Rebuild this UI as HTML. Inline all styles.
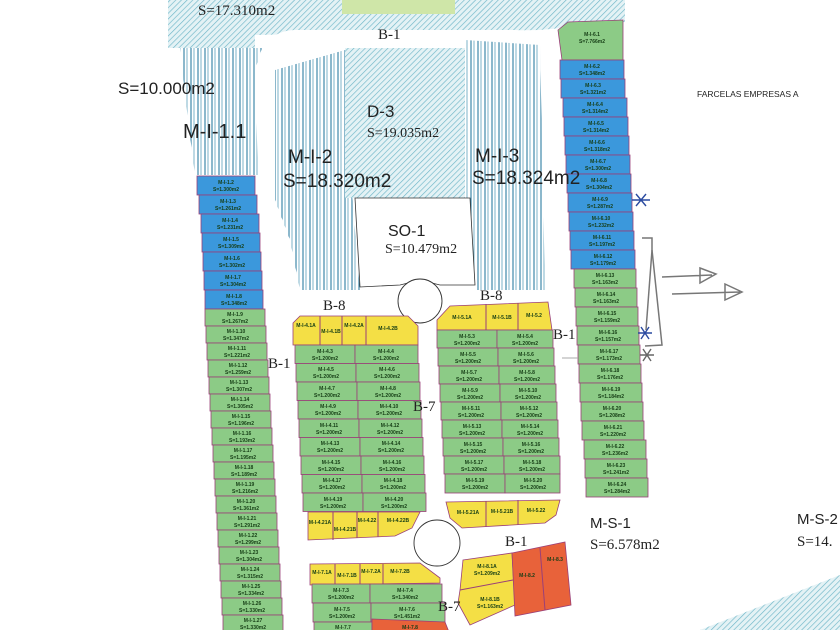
<!DOCTYPE html>
<html><head><meta charset="utf-8"><style>
html,body{margin:0;padding:0;background:#fff;}
svg{display:block;font-family:"Liberation Sans",sans-serif;}
.l rect,.l polygon{stroke:#9a3f78;stroke-width:0.8;}
.t{font-size:5px;font-weight:bold;fill:#153d15;text-anchor:middle;}
.g{fill:#8ccb86;} .b{fill:#3b98dc;} .y{fill:#f4df45;} .o{fill:#e8623a;}
.big{fill:#222;}
</style></head><body>
<svg width="840" height="630" viewBox="0 0 840 630" xmlns="http://www.w3.org/2000/svg">
<defs>
<pattern id="h" width="4" height="4" patternUnits="userSpaceOnUse" patternTransform="rotate(45)">
<rect width="4" height="4" fill="#e4f2f5"/><line x1="0" y1="0" x2="0" y2="4" stroke="#6eb6c8" stroke-width="1.3"/></pattern>
<pattern id="v" width="7" height="10" patternUnits="userSpaceOnUse">
<rect width="7" height="10" fill="#fff"/><line x1="2" y1="0" x2="2" y2="10" stroke="#2f7ea3" stroke-width="1.1"/><line x1="5" y1="0" x2="5" y2="10" stroke="#5aa0bb" stroke-width="0.8"/></pattern>
</defs>
<rect width="840" height="630" fill="#fff"/>
<polygon points="168,0 625,0 625,22 540,30 255,35 255,48 168,48" fill="url(#h)"/>
<rect x="342" y="0" width="113" height="14" fill="#cfe6a8"/>
<polygon points="700,630 840,575 840,630" fill="url(#h)"/>
<rect x="255" y="30" width="300" height="270" rx="40" fill="#fff"/>
<polygon points="180,48 262,48 255,70 258,175 195,175 188,120" fill="url(#v)"/>
<polygon points="275,70 345,50 345,195 352,195 360,290 300,290 290,240 275,200" fill="url(#v)"/>
<rect x="345" y="48" width="120" height="150" fill="url(#h)"/>
<polygon points="465,40 540,45 545,290 475,290 470,200 465,198" fill="url(#v)"/>
<polygon points="355,198 470,198 475,285 440,285 420,280 400,285 360,287" fill="#fff" stroke="#333" stroke-width="0.8"/>
<circle cx="420" cy="301" r="22" fill="#fff" stroke="#333" stroke-width="0.9"/>
<circle cx="437" cy="543" r="23" fill="#fff" stroke="#333" stroke-width="0.9"/>

<g class="l">
<g transform="translate(197,176)"><rect class="b" width="58" height="19"/><text class="t" x="29" y="8">M-I-1.2</text><text class="t" x="29" y="15">S=1.300m2</text></g>
<g transform="translate(199,195)"><rect class="b" width="58" height="19"/><text class="t" x="29" y="8">M-I-1.3</text><text class="t" x="29" y="15">S=1.261m2</text></g>
<g transform="translate(201,214)"><rect class="b" width="58" height="19"/><text class="t" x="29" y="8">M-I-1.4</text><text class="t" x="29" y="15">S=1.231m2</text></g>
<g transform="translate(202,233)"><rect class="b" width="58" height="19"/><text class="t" x="29" y="8">M-I-1.5</text><text class="t" x="29" y="15">S=1.309m2</text></g>
<g transform="translate(203,252)"><rect class="b" width="58" height="19"/><text class="t" x="29" y="8">M-I-1.6</text><text class="t" x="29" y="15">S=1.302m2</text></g>
<g transform="translate(204,271)"><rect class="b" width="58" height="19"/><text class="t" x="29" y="8">M-I-1.7</text><text class="t" x="29" y="15">S=1.304m2</text></g>
<g transform="translate(205,290)"><rect class="b" width="58" height="19"/><text class="t" x="29" y="8">M-I-1.8</text><text class="t" x="29" y="15">S=1.348m2</text></g>
</g>
<g class="l">
<g transform="translate(205,309)"><rect class="g" width="60" height="17"/><text class="t" x="30" y="7">M-I-1.9</text><text class="t" x="30" y="14">S=1.267m2</text></g>
<g transform="translate(206,326)"><rect class="g" width="60" height="17"/><text class="t" x="30" y="7">M-I-1.10</text><text class="t" x="30" y="14">S=1.347m2</text></g>
<g transform="translate(207,343)"><rect class="g" width="60" height="17"/><text class="t" x="30" y="7">M-I-1.11</text><text class="t" x="30" y="14">S=1.221m2</text></g>
<g transform="translate(208,360)"><rect class="g" width="60" height="17"/><text class="t" x="30" y="7">M-I-1.12</text><text class="t" x="30" y="14">S=1.259m2</text></g>
<g transform="translate(209,377)"><rect class="g" width="60" height="17"/><text class="t" x="30" y="7">M-I-1.13</text><text class="t" x="30" y="14">S=1.307m2</text></g>
<g transform="translate(210,394)"><rect class="g" width="60" height="17"/><text class="t" x="30" y="7">M-I-1.14</text><text class="t" x="30" y="14">S=1.305m2</text></g>
<g transform="translate(211,411)"><rect class="g" width="60" height="17"/><text class="t" x="30" y="7">M-I-1.15</text><text class="t" x="30" y="14">S=1.196m2</text></g>
<g transform="translate(212,428)"><rect class="g" width="60" height="17"/><text class="t" x="30" y="7">M-I-1.16</text><text class="t" x="30" y="14">S=1.193m2</text></g>
<g transform="translate(213,445)"><rect class="g" width="60" height="17"/><text class="t" x="30" y="7">M-I-1.17</text><text class="t" x="30" y="14">S=1.195m2</text></g>
<g transform="translate(214,462)"><rect class="g" width="60" height="17"/><text class="t" x="30" y="7">M-I-1.18</text><text class="t" x="30" y="14">S=1.189m2</text></g>
<g transform="translate(215,479)"><rect class="g" width="60" height="17"/><text class="t" x="30" y="7">M-I-1.19</text><text class="t" x="30" y="14">S=1.216m2</text></g>
<g transform="translate(216,496)"><rect class="g" width="60" height="17"/><text class="t" x="30" y="7">M-I-1.20</text><text class="t" x="30" y="14">S=1.361m2</text></g>
<g transform="translate(217,513)"><rect class="g" width="60" height="17"/><text class="t" x="30" y="7">M-I-1.21</text><text class="t" x="30" y="14">S=1.291m2</text></g>
<g transform="translate(218,530)"><rect class="g" width="60" height="17"/><text class="t" x="30" y="7">M-I-1.22</text><text class="t" x="30" y="14">S=1.299m2</text></g>
<g transform="translate(219,547)"><rect class="g" width="60" height="17"/><text class="t" x="30" y="7">M-I-1.23</text><text class="t" x="30" y="14">S=1.304m2</text></g>
<g transform="translate(220,564)"><rect class="g" width="60" height="17"/><text class="t" x="30" y="7">M-I-1.24</text><text class="t" x="30" y="14">S=1.315m2</text></g>
<g transform="translate(221,581)"><rect class="g" width="60" height="17"/><text class="t" x="30" y="7">M-I-1.25</text><text class="t" x="30" y="14">S=1.334m2</text></g>
<g transform="translate(222,598)"><rect class="g" width="60" height="17"/><text class="t" x="30" y="7">M-I-1.26</text><text class="t" x="30" y="14">S=1.330m2</text></g>
<g transform="translate(223,615)"><rect class="g" width="60" height="17"/><text class="t" x="30" y="7">M-I-1.27</text><text class="t" x="30" y="14">S=1.330m2</text></g>
</g>

<g class="l">
<g transform="translate(558,22)"><polygon class="g" points="0,8 10,0 65,-2 65,38 4,38"/><text class="t" x="34" y="14">M-I-6.1</text><text class="t" x="34" y="21">S=7.766m2</text></g>
<g transform="translate(560,60)"><rect class="b" width="64" height="19"/><text class="t" x="32" y="8">M-I-6.2</text><text class="t" x="32" y="15">S=1.348m2</text></g>
<g transform="translate(561,79)"><rect class="b" width="64" height="19"/><text class="t" x="32" y="8">M-I-6.3</text><text class="t" x="32" y="15">S=1.321m2</text></g>
<g transform="translate(563,98)"><rect class="b" width="64" height="19"/><text class="t" x="32" y="8">M-I-6.4</text><text class="t" x="32" y="15">S=1.314m2</text></g>
<g transform="translate(564,117)"><rect class="b" width="64" height="19"/><text class="t" x="32" y="8">M-I-6.5</text><text class="t" x="32" y="15">S=1.314m2</text></g>
<g transform="translate(565,136)"><rect class="b" width="64" height="19"/><text class="t" x="32" y="8">M-I-6.6</text><text class="t" x="32" y="15">S=1.318m2</text></g>
<g transform="translate(566,155)"><rect class="b" width="64" height="19"/><text class="t" x="32" y="8">M-I-6.7</text><text class="t" x="32" y="15">S=1.300m2</text></g>
<g transform="translate(567,174)"><rect class="b" width="64" height="19"/><text class="t" x="32" y="8">M-I-6.8</text><text class="t" x="32" y="15">S=1.304m2</text></g>
<g transform="translate(568,193)"><rect class="b" width="64" height="19"/><text class="t" x="32" y="8">M-I-6.9</text><text class="t" x="32" y="15">S=1.287m2</text></g>
<g transform="translate(569,212)"><rect class="b" width="64" height="19"/><text class="t" x="32" y="8">M-I-6.10</text><text class="t" x="32" y="15">S=1.232m2</text></g>
<g transform="translate(570,231)"><rect class="b" width="64" height="19"/><text class="t" x="32" y="8">M-I-6.11</text><text class="t" x="32" y="15">S=1.197m2</text></g>
<g transform="translate(571,250)"><rect class="b" width="64" height="19"/><text class="t" x="32" y="8">M-I-6.12</text><text class="t" x="32" y="15">S=1.179m2</text></g>
<g transform="translate(574,269)"><rect class="g" width="62" height="19"/><text class="t" x="31" y="8">M-I-6.13</text><text class="t" x="31" y="15">S=1.163m2</text></g>
<g transform="translate(575,288)"><rect class="g" width="62" height="19"/><text class="t" x="31" y="8">M-I-6.14</text><text class="t" x="31" y="15">S=1.163m2</text></g>
<g transform="translate(576,307)"><rect class="g" width="62" height="19"/><text class="t" x="31" y="8">M-I-6.15</text><text class="t" x="31" y="15">S=1.159m2</text></g>
<g transform="translate(577,326)"><rect class="g" width="62" height="19"/><text class="t" x="31" y="8">M-I-6.16</text><text class="t" x="31" y="15">S=1.157m2</text></g>
<g transform="translate(578,345)"><rect class="g" width="62" height="19"/><text class="t" x="31" y="8">M-I-6.17</text><text class="t" x="31" y="15">S=1.173m2</text></g>
<g transform="translate(579,364)"><rect class="g" width="62" height="19"/><text class="t" x="31" y="8">M-I-6.18</text><text class="t" x="31" y="15">S=1.176m2</text></g>
<g transform="translate(580,383)"><rect class="g" width="62" height="19"/><text class="t" x="31" y="8">M-I-6.19</text><text class="t" x="31" y="15">S=1.184m2</text></g>
<g transform="translate(581,402)"><rect class="g" width="62" height="19"/><text class="t" x="31" y="8">M-I-6.20</text><text class="t" x="31" y="15">S=1.208m2</text></g>
<g transform="translate(582,421)"><rect class="g" width="62" height="19"/><text class="t" x="31" y="8">M-I-6.21</text><text class="t" x="31" y="15">S=1.220m2</text></g>
<g transform="translate(584,440)"><rect class="g" width="62" height="19"/><text class="t" x="31" y="8">M-I-6.22</text><text class="t" x="31" y="15">S=1.236m2</text></g>
<g transform="translate(585,459)"><rect class="g" width="62" height="19"/><text class="t" x="31" y="8">M-I-6.23</text><text class="t" x="31" y="15">S=1.241m2</text></g>
<g transform="translate(586,478)"><rect class="g" width="62" height="19"/><text class="t" x="31" y="8">M-I-6.24</text><text class="t" x="31" y="15">S=1.284m2</text></g>
</g>

<g class="l">
<polygon class="y" points="293,323 300,316 408,316 418,326 418,345 293,345"/>
<line x1="320" y1="316" x2="320" y2="345" stroke="#9a3f78"/><line x1="342" y1="316" x2="342" y2="345" stroke="#9a3f78"/><line x1="366" y1="316" x2="366" y2="345" stroke="#9a3f78"/>
<text class="t" x="306" y="327">M-I-4.1A</text><text class="t" x="331" y="333">M-I-4.1B</text><text class="t" x="354" y="327">M-I-4.2A</text><text class="t" x="388" y="330">M-I-4.2B</text>
<rect class="g" x="295" y="345" width="60" height="18.5"/><rect class="g" x="355" y="345" width="63" height="18.5"/>
<text class="t" x="325" y="353">M-I-4.3</text><text class="t" x="325" y="360">S=1.200m2</text><text class="t" x="386" y="353">M-I-4.4</text><text class="t" x="386" y="360">S=1.200m2</text>
<rect class="g" x="296" y="363.5" width="60" height="18.5"/><rect class="g" x="356" y="363.5" width="63" height="18.5"/>
<text class="t" x="326" y="371">M-I-4.5</text><text class="t" x="326" y="378">S=1.200m2</text><text class="t" x="387" y="371">M-I-4.6</text><text class="t" x="387" y="378">S=1.200m2</text>
<rect class="g" x="297" y="382" width="60" height="18.5"/><rect class="g" x="357" y="382" width="63" height="18.5"/>
<text class="t" x="327" y="390">M-I-4.7</text><text class="t" x="327" y="397">S=1.200m2</text><text class="t" x="388" y="390">M-I-4.8</text><text class="t" x="388" y="397">S=1.200m2</text>
<rect class="g" x="298" y="400.5" width="60" height="18.5"/><rect class="g" x="358" y="400.5" width="63" height="18.5"/>
<text class="t" x="328" y="408">M-I-4.9</text><text class="t" x="328" y="415">S=1.200m2</text><text class="t" x="389" y="408">M-I-4.10</text><text class="t" x="389" y="415">S=1.200m2</text>
<rect class="g" x="299" y="419" width="60" height="18.5"/><rect class="g" x="359" y="419" width="63" height="18.5"/>
<text class="t" x="329" y="427">M-I-4.11</text><text class="t" x="329" y="434">S=1.200m2</text><text class="t" x="390" y="427">M-I-4.12</text><text class="t" x="390" y="434">S=1.200m2</text>
<rect class="g" x="300" y="437.5" width="60" height="18.5"/><rect class="g" x="360" y="437.5" width="63" height="18.5"/>
<text class="t" x="330" y="445">M-I-4.13</text><text class="t" x="330" y="452">S=1.200m2</text><text class="t" x="391" y="445">M-I-4.14</text><text class="t" x="391" y="452">S=1.200m2</text>
<rect class="g" x="301" y="456" width="60" height="18.5"/><rect class="g" x="361" y="456" width="63" height="18.5"/>
<text class="t" x="331" y="464">M-I-4.15</text><text class="t" x="331" y="471">S=1.200m2</text><text class="t" x="392" y="464">M-I-4.16</text><text class="t" x="392" y="471">S=1.200m2</text>
<rect class="g" x="302" y="474.5" width="60" height="18.5"/><rect class="g" x="362" y="474.5" width="63" height="18.5"/>
<text class="t" x="332" y="482">M-I-4.17</text><text class="t" x="332" y="489">S=1.200m2</text><text class="t" x="393" y="482">M-I-4.18</text><text class="t" x="393" y="489">S=1.200m2</text>
<rect class="g" x="303" y="493" width="60" height="18.5"/><rect class="g" x="363" y="493" width="63" height="18.5"/>
<text class="t" x="333" y="501">M-I-4.19</text><text class="t" x="333" y="508">S=1.200m2</text><text class="t" x="394" y="501">M-I-4.20</text><text class="t" x="394" y="508">S=1.200m2</text>
<polygon class="y" points="308,512 420,512 412,528 395,536 308,540"/>
<line x1="333" y1="512" x2="333" y2="540" stroke="#9a3f78"/><line x1="357" y1="512" x2="357" y2="538" stroke="#9a3f78"/><line x1="378" y1="512" x2="378" y2="537" stroke="#9a3f78"/>
<text class="t" x="320" y="524">M-I-4.21A</text><text class="t" x="345" y="531">M-I-4.21B</text><text class="t" x="367" y="522">M-I-4.22</text><text class="t" x="398" y="522">M-I-4.22B</text>
</g>

<g class="l">
<polygon class="y" points="437,320 450,306 548,302 552,330 437,330"/>
<line x1="486" y1="304" x2="486" y2="330" stroke="#9a3f78"/><line x1="518" y1="303" x2="518" y2="330" stroke="#9a3f78"/>
<text class="t" x="462" y="319">M-I-5.1A</text><text class="t" x="502" y="319">M-I-5.1B</text><text class="t" x="534" y="317">M-I-5.2</text>
<rect class="g" x="437" y="330" width="60" height="18"/><rect class="g" x="497" y="330" width="56" height="18"/>
<text class="t" x="467" y="338">M-I-5.3</text><text class="t" x="467" y="345">S=1.200m2</text><text class="t" x="525" y="338">M-I-5.4</text><text class="t" x="525" y="345">S=1.200m2</text>
<rect class="g" x="438" y="348" width="60" height="18"/><rect class="g" x="498" y="348" width="56" height="18"/>
<text class="t" x="468" y="356">M-I-5.5</text><text class="t" x="468" y="363">S=1.200m2</text><text class="t" x="526" y="356">M-I-5.6</text><text class="t" x="526" y="363">S=1.200m2</text>
<rect class="g" x="439" y="366" width="60" height="18"/><rect class="g" x="499" y="366" width="56" height="18"/>
<text class="t" x="469" y="374">M-I-5.7</text><text class="t" x="469" y="381">S=1.200m2</text><text class="t" x="527" y="374">M-I-5.8</text><text class="t" x="527" y="381">S=1.200m2</text>
<rect class="g" x="440" y="384" width="60" height="18"/><rect class="g" x="500" y="384" width="56" height="18"/>
<text class="t" x="470" y="392">M-I-5.9</text><text class="t" x="470" y="399">S=1.200m2</text><text class="t" x="528" y="392">M-I-5.10</text><text class="t" x="528" y="399">S=1.200m2</text>
<rect class="g" x="441" y="402" width="60" height="18"/><rect class="g" x="501" y="402" width="56" height="18"/>
<text class="t" x="471" y="410">M-I-5.11</text><text class="t" x="471" y="417">S=1.200m2</text><text class="t" x="529" y="410">M-I-5.12</text><text class="t" x="529" y="417">S=1.200m2</text>
<rect class="g" x="442" y="420" width="60" height="18"/><rect class="g" x="502" y="420" width="56" height="18"/>
<text class="t" x="472" y="428">M-I-5.13</text><text class="t" x="472" y="435">S=1.200m2</text><text class="t" x="530" y="428">M-I-5.14</text><text class="t" x="530" y="435">S=1.200m2</text>
<rect class="g" x="443" y="438" width="60" height="18"/><rect class="g" x="503" y="438" width="56" height="18"/>
<text class="t" x="473" y="446">M-I-5.15</text><text class="t" x="473" y="453">S=1.200m2</text><text class="t" x="531" y="446">M-I-5.16</text><text class="t" x="531" y="453">S=1.200m2</text>
<rect class="g" x="444" y="456" width="60" height="18"/><rect class="g" x="504" y="456" width="56" height="18"/>
<text class="t" x="474" y="464">M-I-5.17</text><text class="t" x="474" y="471">S=1.200m2</text><text class="t" x="532" y="464">M-I-5.18</text><text class="t" x="532" y="471">S=1.200m2</text>
<rect class="g" x="445" y="474" width="60" height="19"/><rect class="g" x="505" y="474" width="55" height="19"/>
<text class="t" x="475" y="482">M-I-5.19</text><text class="t" x="475" y="489">S=1.200m2</text><text class="t" x="533" y="482">M-I-5.20</text><text class="t" x="533" y="489">S=1.200m2</text>
<polygon class="y" points="446,502 560,500 556,515 545,523 462,528 450,518"/>
<line x1="486" y1="501" x2="486" y2="527" stroke="#9a3f78"/><line x1="518" y1="500" x2="518" y2="525" stroke="#9a3f78"/>
<text class="t" x="468" y="514">M-I-5.21A</text><text class="t" x="502" y="513">M-I-5.21B</text><text class="t" x="536" y="512">M-I-5.22</text>
</g>

<g class="l">
<polygon class="y" points="310,564 420,563 440,578 440,583 310,585"/>
<line x1="335" y1="564" x2="335" y2="585" stroke="#9a3f78"/><line x1="360" y1="564" x2="360" y2="585" stroke="#9a3f78"/><line x1="383" y1="564" x2="383" y2="584" stroke="#9a3f78"/>
<text class="t" x="322" y="574">M-I-7.1A</text><text class="t" x="347" y="577">M-I-7.1B</text><text class="t" x="371" y="573">M-I-7.2A</text><text class="t" x="400" y="573">M-I-7.2B</text>
<rect class="g" x="312" y="584" width="58" height="19"/><rect class="g" x="370" y="584" width="72" height="19"/>
<text class="t" x="341" y="592">M-I-7.3</text><text class="t" x="341" y="599">S=1.200m2</text><text class="t" x="405" y="592">M-I-7.4</text><text class="t" x="405" y="599">S=1.340m2</text>
<rect class="g" x="313" y="603" width="58" height="19"/><rect class="g" x="371" y="603" width="74" height="19"/>
<text class="t" x="342" y="611">M-I-7.5</text><text class="t" x="342" y="618">S=1.200m2</text><text class="t" x="407" y="611">M-I-7.6</text><text class="t" x="407" y="618">S=1.451m2</text>
<rect class="g" x="314" y="622" width="58" height="10"/><polygon class="o" points="372,619 445,622 449,632 372,632"/>
<text class="t" x="343" y="629">M-I-7.7</text><text class="t" x="410" y="629">M-I-7.8</text>
</g>
<g class="l">
<polygon class="y" points="463,560 512,553 515,605 470,625 458,603 460,590"/>
<polygon class="o" points="512,553 565,542 571,605 515,616"/>
<line x1="540" y1="548" x2="545" y2="610" stroke="#9a3f78"/>
<line x1="460" y1="590" x2="513" y2="580" stroke="#9a3f78"/>
<text class="t" x="487" y="568">M-I-8.1A</text><text class="t" x="487" y="575">S=1.209m2</text>
<text class="t" x="490" y="601">M-I-8.1B</text><text class="t" x="490" y="608">S=1.163m2</text>
<text class="t" x="527" y="577">M-I-8.2</text><text class="t" x="555" y="561">M-I-8.3</text>
</g>

<g class="big" font-family="Liberation Serif, serif">
<text x="198" y="15" font-size="15">S=17.310m2</text>
<text x="378" y="39" font-size="15">B-1</text>
<text x="367" y="137" font-size="14">S=19.035m2</text>
<text x="385" y="253" font-size="14">S=10.479m2</text>
<text x="323" y="310" font-size="15">B-8</text>
<text x="480" y="300" font-size="15">B-8</text>
<text x="268" y="368" font-size="15">B-1</text>
<text x="413" y="411" font-size="15">B-7</text>
<text x="553" y="339" font-size="15">B-1</text>
<text x="505" y="546" font-size="15">B-1</text>
<text x="438" y="611" font-size="15">B-7</text>
<text x="590" y="549" font-size="15">S=6.578m2</text>
<text x="797" y="546" font-size="15">S=14.</text>
</g>
<g class="big">
<text x="118" y="94" font-size="17">S=10.000m2</text>
<text x="183" y="138" font-size="20">M-I-1.1</text>
<text x="367" y="117" font-size="17">D-3</text>
<text x="288" y="163" font-size="19">M-I-2</text>
<text x="283" y="187" font-size="19">S=18.320m2</text>
<text x="475" y="162" font-size="19">M-I-3</text>
<text x="472" y="184" font-size="19">S=18.324m2</text>
<text x="388" y="236" font-size="16">SO-1</text>
<text x="590" y="528" font-size="15">M-S-1</text>
<text x="797" y="524" font-size="15">M-S-2</text>
<text x="697" y="97" font-size="8.5">FARCELAS EMPRESAS A</text>
</g>
<g stroke="#777" stroke-width="1.5" fill="none">
<path d="M 642,238 L 652,238 L 652,250 L 662,345 L 645,346"/>
<path d="M 652,250 L 646,330"/>
<path d="M 662,277 L 712,275 M 700,268 L 716,274 L 700,283 Z"/>
<path d="M 672,294 L 740,292 M 725,284 L 742,292 L 725,300 Z"/>
</g>
<g stroke="#2a4aa0" stroke-width="1.4"><path d="M 632,200 L 650,200 M 636,194 L 646,206 M 646,194 L 636,206"/><path d="M 638,333 L 652,333 M 641,327 L 649,339 M 649,327 L 641,339"/></g>
<g stroke="#666" stroke-width="1.4"><path d="M 640,355 L 654,355 M 643,349 L 651,361 M 651,349 L 643,361"/></g>
<line x1="578" y1="358" x2="562" y2="358" stroke="#aaa" stroke-width="1"/>
</svg>
</body></html>
